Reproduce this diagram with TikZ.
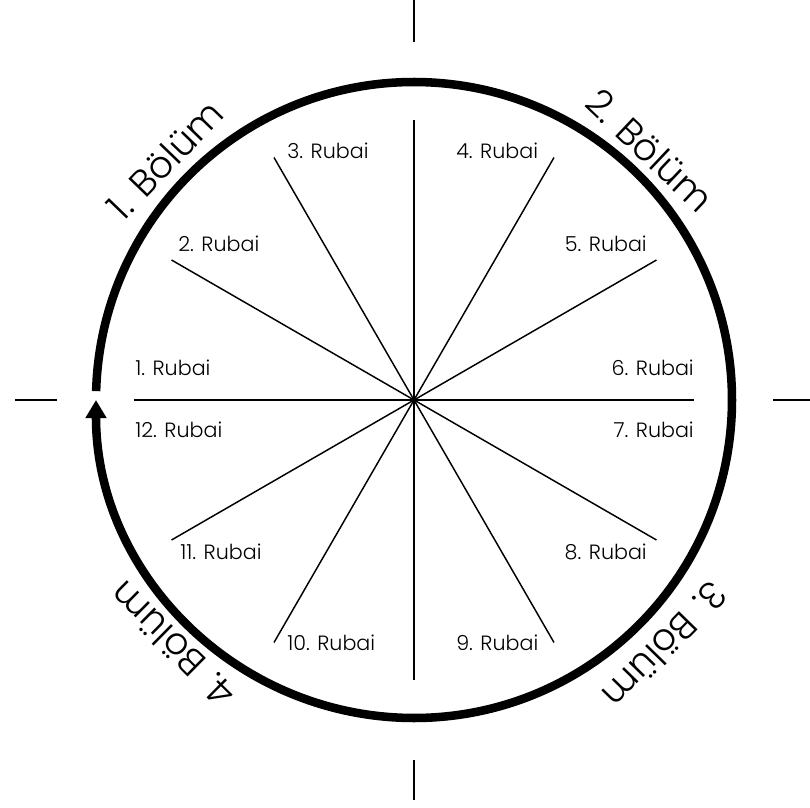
\documentclass[tikz,border=0pt]{standalone}
\usepackage{fontspec}
\setmainfont{Poppins Light}
\usetikzlibrary{arrows.meta}

\tikzset{
    rubai/.style={inner sep=0pt, font=\fontsize{15.5}{18}\selectfont},
    bolum/.style={inner sep=0pt, font=\fontsize{28}{33}\selectfont},
    spoke/.style={line width=1.1pt},
    tick/.style={line width=2.2pt},
    ring/.style={line width=6.4pt, -{Triangle[length=13.5pt, width=15pt]}}
}

\begin{document}
\begin{tikzpicture}[x=0.75pt, y=0.75pt]
\useasboundingbox (-414,-407) rectangle (396,400);

% ===== Centre and spoke ends =====
\coordinate (o) at (0,0);
\coordinate (s1)  at (180:280);
\coordinate (s2)  at (150:280);
\coordinate (s3)  at (120:280);
\coordinate (s4)  at (60:280);
\coordinate (s5)  at (30:280);
\coordinate (s6)  at (0:280);
\coordinate (s7)  at (-30:280);
\coordinate (s8)  at (-60:280);
\coordinate (s9)  at (-120:280);
\coordinate (s10) at (-150:280);
\coordinate (sn)  at (90:280);
\coordinate (ss)  at (-90:280);

\draw[spoke] (sn) -- (ss);
\draw[spoke] (s1) -- (s6);
\draw[spoke] (s2) -- (s7);
\draw[spoke] (s3) -- (s8);
\draw[spoke] (s4) -- (s9);
\draw[spoke] (s5) -- (s10);

% ===== Outer ring with arrow =====
\coordinate (ringstart) at (178.4:318);
\draw[ring] (ringstart) arc[start angle=178.4, end angle=-180, radius=318];

% ===== Ticks =====
\coordinate (tn1) at (0,400);   \coordinate (tn2) at (0,358);
\coordinate (tw1) at (-399,0);  \coordinate (tw2) at (-357,0);
\coordinate (te1) at (359,0);   \coordinate (te2) at (396,0);
\coordinate (ts1) at (0,-360);  \coordinate (ts2) at (0,-400);
\draw[tick] (tn1) -- (tn2);
\draw[tick] (tw1) -- (tw2);
\draw[tick] (te1) -- (te2);
\draw[tick] (ts1) -- (ts2);

% ===== Rubai labels =====
\node[rubai, anchor=west] (r1)  at (-279,32)   {1. Rubai};
\node[rubai, anchor=west] (r2)  at (-236,156)  {2. Rubai};
\node[rubai, anchor=west] (r3)  at (-127,249)  {3. Rubai};
\node[rubai, anchor=west] (r4)  at (42,249)    {4. Rubai};
\node[rubai, anchor=east] (r5)  at (233,156)   {5. Rubai};
\node[rubai, anchor=east] (r6)  at (280,32)    {6. Rubai};
\node[rubai, anchor=east] (r7)  at (280,-30)   {7. Rubai};
\node[rubai, anchor=east] (r8)  at (233,-152)  {8. Rubai};
\node[rubai, anchor=west] (r9)  at (42,-243)   {9. Rubai};
\node[rubai, anchor=west] (r10) at (-127,-243) {10. Rubai};
\node[rubai, anchor=west] (r11) at (-234,-152) {11. Rubai};
\node[rubai, anchor=west] (r12) at (-279,-30)  {12. Rubai};

% ===== Bölüm labels =====
\node[bolum, rotate=46]     (b1) at (136:346)   {1. Bölüm};
\node[bolum, rotate=-43.4]  (b2) at (46.6:344)  {2. Bölüm};
\node[bolum, rotate=-134.3] (b3) at (-44.3:351) {3. Bölüm};
\node[bolum, rotate=135.4]  (b4) at (225.4:344) {4. Bölüm};

\end{tikzpicture}
\end{document}
